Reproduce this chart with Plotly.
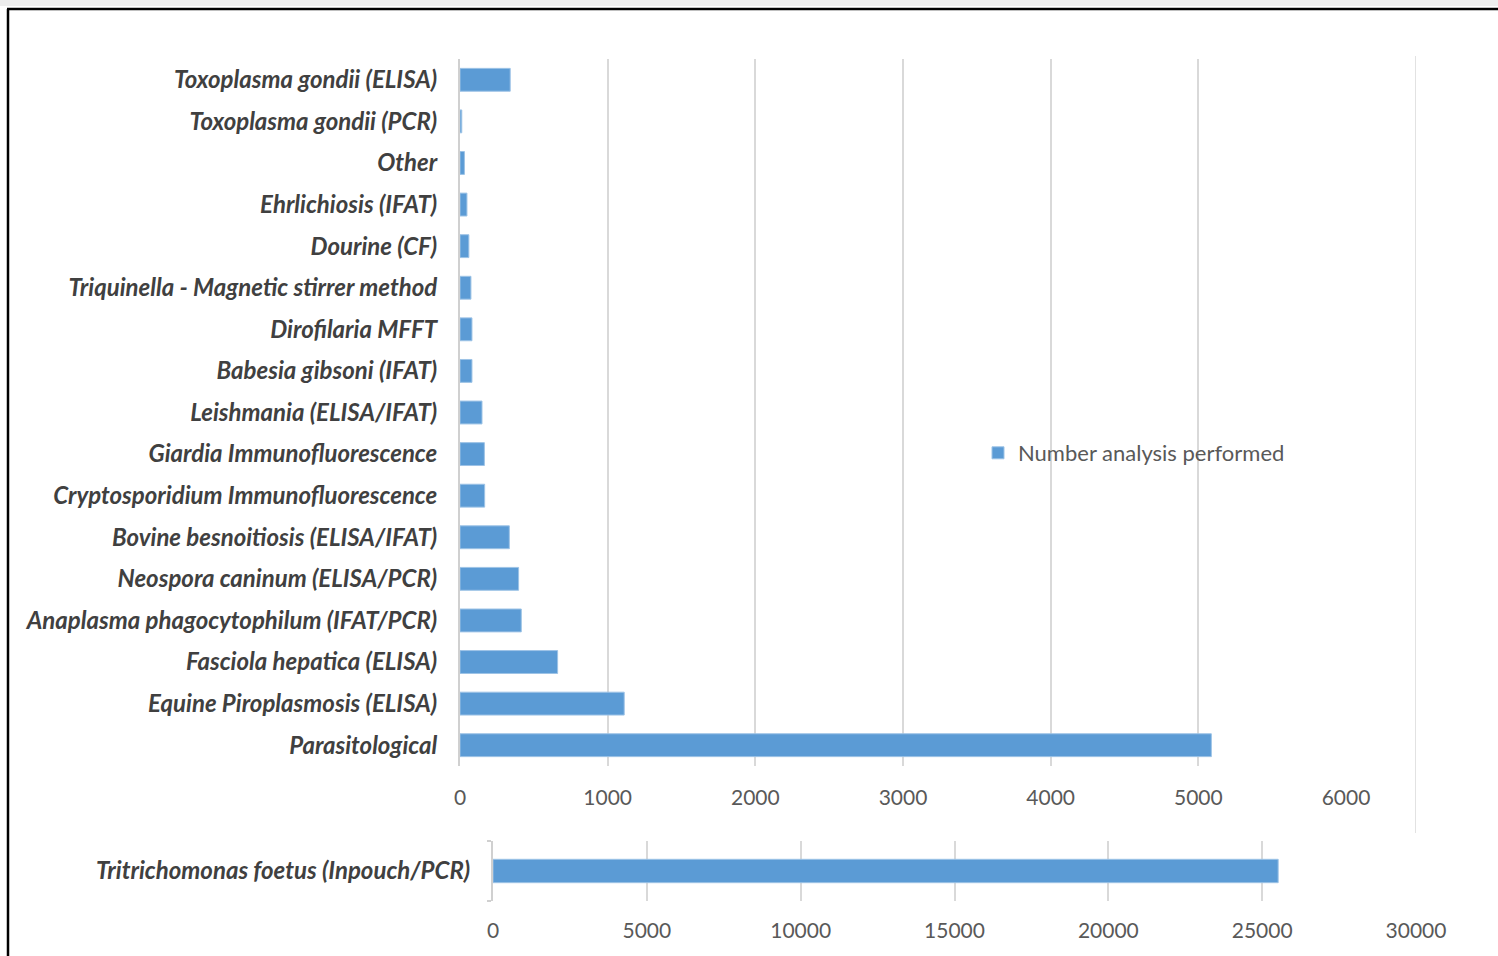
import plotly.graph_objects as go

W, H = 1498, 956

categories = [
    "Toxoplasma gondii (ELISA)",
    "Toxoplasma gondii (PCR)",
    "Other",
    "Ehrlichiosis (IFAT)",
    "Dourine (CF)",
    "Triquinella - Magnetic stirrer method",
    "Dirofilaria MFFT",
    "Babesia gibsoni (IFAT)",
    "Leishmania (ELISA/IFAT)",
    "Giardia Immunofluorescence",
    "Cryptosporidium Immunofluorescence",
    "Bovine besnoitiosis (ELISA/IFAT)",
    "Neospora caninum (ELISA/PCR)",
    "Anaplasma phagocytophilum (IFAT/PCR)",
    "Fasciola hepatica (ELISA)",
    "Equine Piroplasmosis (ELISA)",
    "Parasitological",
]
values = [340, 12, 30, 47, 60, 74, 81, 81, 149, 165, 167, 334, 397, 415, 661, 1112, 5088]

big_category = ["Tritrichomonas foetus (Inpouch/PCR)"]
big_values = [25520]

series_name = "Number analysis performed"
top_ticks = [0, 1000, 2000, 3000, 4000, 5000, 6000]
bottom_ticks = [0, 5000, 10000, 15000, 20000, 25000, 30000]

BAR = "#5b9bd5"
GRID = "#d9d9d9"
FAM = "Lato, 'Open Sans', sans-serif"
LABEL_FONT = dict(family=FAM, size=24, color="#404040", weight="bold", style="italic")
TICK_FONT = dict(family=FAM, size=21, color="#595959")


def px_x(p):
    return p / W


def px_y(p):
    return 1 - p / H


fig = go.Figure()
fig.add_trace(go.Bar(
    y=categories, x=values, orientation="h", name=series_name,
    marker=dict(color=BAR, line=dict(color="#9dc3e6", width=1)),
    width=0.55, xaxis="x", yaxis="y", showlegend=True,
))
fig.add_trace(go.Bar(
    y=big_category, x=big_values, orientation="h", name=series_name,
    marker=dict(color=BAR, line=dict(color="#9dc3e6", width=1)),
    width=0.39, xaxis="x2", yaxis="y2", showlegend=False,
))

fig.update_layout(
    width=W, height=H, autosize=False,
    margin=dict(l=0, r=0, t=0, b=0, pad=0, autoexpand=False),
    paper_bgcolor="white", plot_bgcolor="white",
    xaxis=dict(
        domain=[px_x(460), px_x(1346)], range=[0, 6000],
        tickvals=top_ticks, ticktext=[str(t) for t in top_ticks],
        showgrid=True, gridcolor=GRID, gridwidth=1.5, zeroline=False,
        ticks="outside", ticklen=13, tickcolor="rgba(0,0,0,0)",
        tickfont=TICK_FONT, anchor="y", automargin=False,
    ),
    yaxis=dict(
        domain=[px_y(766), px_y(59)], type="category",
        autorange="reversed", showgrid=False, zeroline=False,
        showline=True, linecolor="#d0d0d0", linewidth=2,
        ticks="outside", ticklen=16, tickcolor="rgba(0,0,0,0)",
        tickfont=LABEL_FONT, anchor="x", automargin=False,
    ),
    xaxis2=dict(
        domain=[px_x(493), px_x(1416)], range=[0, 30000],
        tickvals=bottom_ticks, ticktext=[str(t) for t in bottom_ticks],
        showgrid=True, gridcolor=GRID, gridwidth=1.5, zeroline=False,
        ticks="outside", ticklen=11, tickcolor="rgba(0,0,0,0)",
        tickfont=TICK_FONT, anchor="y2", automargin=False,
    ),
    yaxis2=dict(
        domain=[px_y(901), px_y(841)], type="category",
        showgrid=False, zeroline=False,
        showline=True, linecolor="#d0d0d0", linewidth=2,
        ticks="outside", ticklen=4, tickcolor="#d0d0d0", tickwidth=2,
        tickson="boundaries",
        ticklabelstandoff=16,
        tickfont=LABEL_FONT, anchor="x2", automargin=False,
    ),
    legend=dict(
        x=px_x(978), y=px_y(453), xanchor="left", yanchor="middle",
        font=dict(family=FAM, size=22, color="#595959"),
        bgcolor="rgba(0,0,0,0)", itemwidth=30, tracegroupgap=0,
    ),
    shapes=[
        # extra vertical guide line at the right edge of the lower axis
        dict(type="line", xref="x2", x0=30000, x1=30000, yref="paper",
             y0=px_y(833), y1=px_y(56), line=dict(color=GRID, width=1.5), layer="below"),
        # light shadow band at top
        dict(type="rect", xref="paper", yref="paper", x0=0, x1=1, y0=px_y(6), y1=1,
             fillcolor="#ededed", line=dict(width=0), layer="below"),
        # black frame
        dict(type="line", xref="paper", yref="paper", x0=px_x(7), x1=1, y0=px_y(9), y1=px_y(9),
             line=dict(color="black", width=2.5)),
        dict(type="line", xref="paper", yref="paper", x0=px_x(8), x1=px_x(8), y0=0, y1=px_y(9),
             line=dict(color="black", width=2.5)),
    ],
)

fig.write_html(
    "out.html",
    config={"displayModeBar": False},
    post_script="document.body.style.margin='0';document.body.style.overflow='hidden';",
)
